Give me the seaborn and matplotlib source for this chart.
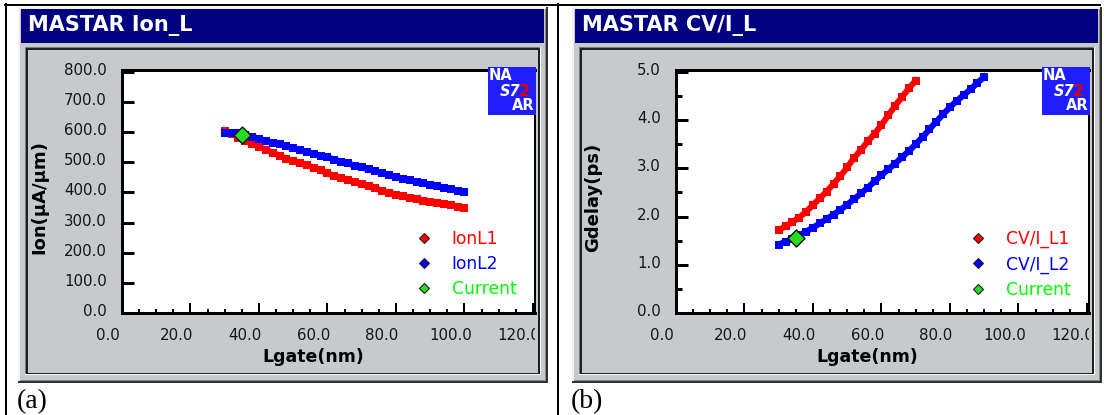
import matplotlib
matplotlib.use("Agg")
import matplotlib.pyplot as plt
import matplotlib.transforms as mtransforms
from matplotlib.patches import Rectangle
from matplotlib.lines import Line2D
from matplotlib.ticker import MultipleLocator, FormatStrFormatter
import seaborn as sns

# ---- data ----
lgate_ion = [30, 32, 34, 36, 38, 40, 42, 44, 46, 48, 50, 52, 54, 56, 58, 60, 62, 64,
             66, 68, 70, 72, 74, 76, 78, 80, 82, 84, 86, 88, 90, 92, 94, 96, 98, 100]
ion_l1 = [605, 594, 582, 571, 561, 551, 542, 532, 522, 512, 504, 497, 490, 482, 473, 463,
          455, 448, 441, 434, 427, 420, 413, 406, 399, 393, 387, 381, 377, 373, 369, 366,
          361, 357, 353, 349]
ion_l2 = [596, 598, 597, 592, 585, 578, 571, 565, 559, 553, 547, 540, 534, 528, 522, 516,
          509, 502, 496, 489, 483, 476, 470, 463, 457, 451, 445, 440, 435, 430, 425, 420,
          415, 410, 405, 400]

lgate_cvi1 = [30, 32, 34, 36, 38, 40, 42, 44, 46, 48, 50, 52, 54, 56, 58, 60, 62, 64,
              66, 68, 70]
cvi_l1 = [1.72, 1.80, 1.89, 1.98, 2.10, 2.24, 2.38, 2.52, 2.68, 2.84, 3.02, 3.22, 3.38,
          3.56, 3.72, 3.90, 4.10, 4.30, 4.48, 4.66, 4.82]
lgate_cvi2 = [30, 32, 34, 36, 38, 40, 42, 44, 46, 48, 50, 52, 54, 56, 58, 60, 62, 64,
              66, 68, 70, 72, 74, 76, 78, 80, 82, 84, 86, 88, 90]
cvi_l2 = [1.42, 1.48, 1.54, 1.61, 1.69, 1.77, 1.86, 1.95, 2.04, 2.14, 2.25, 2.36, 2.48,
          2.60, 2.73, 2.86, 2.98, 3.10, 3.23, 3.36, 3.50, 3.65, 3.81, 3.97, 4.12, 4.27,
          4.40, 4.52, 4.64, 4.77, 4.90]

current_lgate = 35
current_ion = 590
current_cvi = 1.56

ion_labels = ["IonL1", "IonL2", "Current"]
cvi_labels = ["CV/I_L1", "CV/I_L2", "Current"]

x_ticks = [0, 20, 40, 60, 80, 100, 120]
ion_ticks = [0, 100, 200, 300, 400, 500, 600, 700, 800]
gdelay_ticks = [0, 1, 2, 3, 4, 5]

RED = "#FF0000"
BLUE = "#0000FF"
GREEN = "#00FF00"
NAVY = "#000080"
GRAY = "#C6CACD"
LOGO = "#1E1EFF"

W, H = 1108, 415
PT = 0.72  # points per pixel at dpi 100

fig = plt.figure(figsize=(W / 100, H / 100), dpi=100)
fig.patch.set_facecolor("white")


def box(x0, y0, x1, y1, color="none", z=-10):
    return Rectangle((x0 / W, 1 - y1 / H), (x1 - x0) / W, (y1 - y0) / H,
                     transform=fig.transFigure, facecolor=color,
                     edgecolor="none", zorder=z)


def rect(x0, y0, x1, y1, color, z=-10):
    r = box(x0, y0, x1, y1, color, z)
    fig.add_artist(r)
    return r


def hline(x0, x1, y, lw=2):
    fig.add_artist(Line2D([x0 / W, x1 / W], [1 - y / H, 1 - y / H], color="black",
                          lw=lw * PT, transform=fig.transFigure, zorder=-20))


def vline(x, y0, y1, lw=2):
    fig.add_artist(Line2D([x / W, x / W], [1 - y0 / H, 1 - y1 / H], color="black",
                          lw=lw * PT, transform=fig.transFigure, zorder=-20))


def draw_panel(ox, title, caption, ylabel, ymax, yticks, yminor, series,
               current_y, labels):
    # window chrome
    rect(ox + 18, 7, ox + 548, 383, "#303030", -19)
    rect(ox + 18, 7, ox + 546, 381, "#F2F2F2", -18)
    rect(ox + 20, 9, ox + 546, 381, "#8A8A8A", -17)
    rect(ox + 20, 9, ox + 545, 380, GRAY, -16)
    rect(ox + 21, 9, ox + 544, 43, NAVY, -15)
    rect(ox + 25, 47, ox + 541, 375, "#FFFFFF", -14)
    rect(ox + 25, 47, ox + 540, 374, "#7A7A7A", -13)
    rect(ox + 26, 48, ox + 540, 374, "#202020", -12)
    rect(ox + 28, 50, ox + 538, 373, GRAY, -11)
    clip = box(ox + 28, 50, ox + 535, 373)
    fig.text((ox + 28) / W, 1 - 26 / H, title, color="white", fontsize=15,
             fontweight="bold", ha="left", va="center")
    fig.text((ox + 17) / W, 1 - 408 / H, caption, family="Liberation Serif",
             fontsize=20, ha="left", va="baseline")

    ax = fig.add_axes([(ox + 122) / W, 1 - 313 / H, 413 / W, 243 / H])
    ax.set_facecolor("white")
    for xs, ys, c in series:
        sns.lineplot(x=xs, y=ys, ax=ax, color=c, lw=4.4, marker="s", ms=5.8,
                     mew=0, errorbar=None, sort=False, legend=False)
    sns.scatterplot(x=[current_lgate], y=[current_y], ax=ax, marker="D",
                    color="#22DD22", edgecolor="#111111", linewidth=1.0, s=75,
                    zorder=6, legend=False)

    ax.set_xlim(0, 120.6)
    ax.set_ylim(0, ymax)
    ax.set_xticks(x_ticks)
    ax.xaxis.set_minor_locator(MultipleLocator(5))
    ax.set_yticks(yticks)
    if yminor:
        ax.yaxis.set_minor_locator(MultipleLocator(yminor))
    ax.xaxis.set_major_formatter(FormatStrFormatter("%.1f"))
    ax.yaxis.set_major_formatter(FormatStrFormatter("%.1f"))
    ax.tick_params(axis="x", which="major", direction="in", length=10 * PT,
                   width=2 * PT, pad=11, labelsize=10.8, labelcolor="#151515")
    ax.tick_params(axis="x", which="minor", direction="in", length=4 * PT,
                   width=2 * PT)
    ax.tick_params(axis="y", which="major", direction="in", length=12 * PT,
                   width=3 * PT, pad=11, labelsize=10.8, labelcolor="#151515")
    ax.tick_params(axis="y", which="minor", direction="in", length=6 * PT,
                   width=3 * PT)
    for side in ["left", "bottom", "top"]:
        ax.spines[side].set_linewidth(3 * PT)
    ax.spines["right"].set_linewidth(2 * PT)

    # labels sit left of their ticks, and the last one is cut by the panel edge
    shift_x = mtransforms.ScaledTranslation(-14 / 100, 0, fig.dpi_scale_trans)
    for lab in ax.get_xticklabels():
        lab.set_transform(lab.get_transform() + shift_x)
        lab.set_clip_path(clip)
    shift_y = mtransforms.ScaledTranslation(0, 3 / 100, fig.dpi_scale_trans)
    for lab in ax.get_yticklabels():
        lab.set_transform(lab.get_transform() + shift_y)

    ax.set_xlabel("Lgate(nm)", fontsize=12.5, fontweight="bold")
    ax.xaxis.set_label_coords((313 - 122) / 413, (313 - 357) / 243)
    ax.xaxis.label.set_va("center")
    ax.set_ylabel(ylabel, fontsize=13, fontweight="bold")
    ax.yaxis.set_label_coords((39 - 122) / 413, (313 - 197) / 243)
    ax.yaxis.label.set_va("center")

    handles = [Line2D([0], [0], marker="D", ls="", mfc=c, mec="#202020", mew=0.8,
                      ms=7 * PT) for _, _, c in series]
    handles.append(Line2D([0], [0], marker="D", ls="", mfc="#22DD22",
                          mec="#202020", mew=0.8, ms=7 * PT))
    ax.legend(handles, labels, loc="upper left",
              bbox_to_anchor=((ox + 415) / W, 1 - 230 / H),
              bbox_transform=fig.transFigure, frameon=False,
              prop={"size": 12.3}, labelcolor=[RED, BLUE, GREEN],
              handlelength=1.0, handletextpad=1.15, labelspacing=0.42,
              borderpad=0, borderaxespad=0)

    # MASTAR logo box
    rect(ox + 488, 67, ox + 536, 115, LOGO, 5)
    fig.text((ox + 489) / W, 1 - 76 / H, "NA", color="white", fontsize=10.5,
             fontweight="bold", ha="left", va="center", zorder=6)
    fig.text((ox + 520) / W, 1 - 91 / H, "S7", color="white", fontsize=10.5,
             fontweight="bold", ha="right", va="center", zorder=6,
             style="italic")
    fig.text((ox + 519) / W, 1 - 91 / H, "2", color="#E00000", fontsize=11.5,
             fontweight="bold", ha="left", va="center", zorder=6)
    fig.text((ox + 535) / W, 1 - 106 / H, "AR", color="white", fontsize=10.5,
             fontweight="bold", ha="right", va="center", zorder=6)
    return ax


# table lines
hline(5, 1100, 4.8)
vline(6, 4, 415)
vline(558.5, 4, 415)

draw_panel(0, "MASTAR Ion_L", "(a)", "Ion(\u00b5A/\u00b5m)", 806, ion_ticks, None,
           [(lgate_ion, ion_l1, RED), (lgate_ion, ion_l2, BLUE)], current_ion,
           ion_labels)
draw_panel(554, "MASTAR CV/I_L", "(b)", "Gdelay(ps)", 5.04, gdelay_ticks, 0.5,
           [(lgate_cvi1, cvi_l1, RED), (lgate_cvi2, cvi_l2, BLUE)], current_cvi,
           cvi_labels)

fig.savefig("out.png", dpi=100, facecolor="white")
